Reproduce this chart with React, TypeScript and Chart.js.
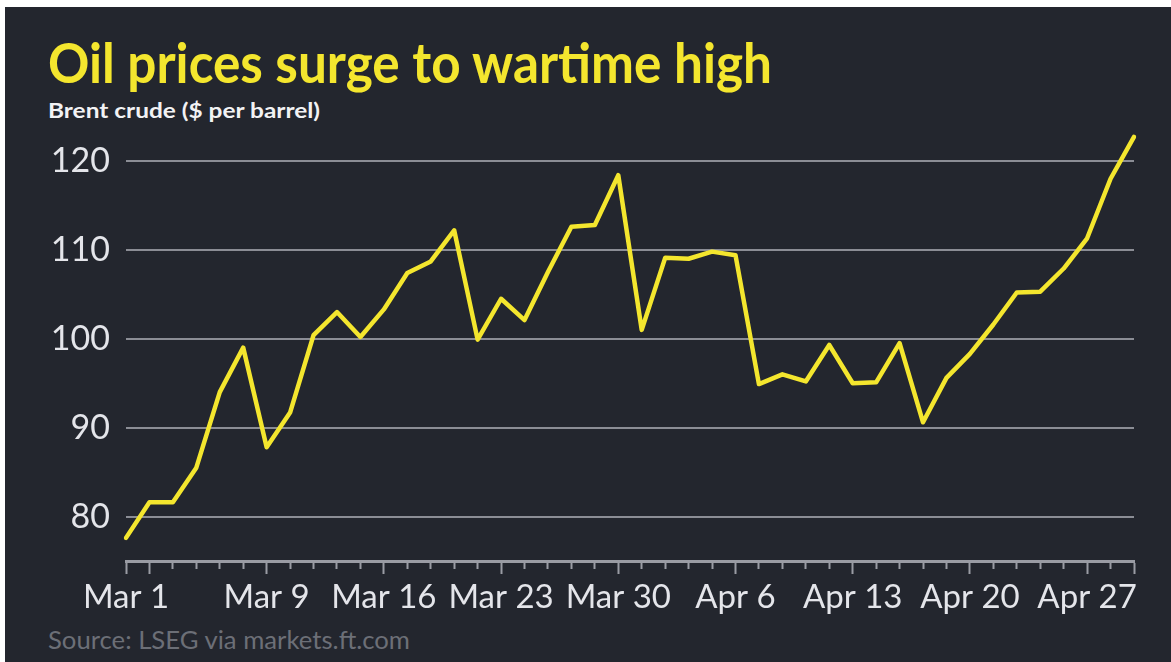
import React, { useEffect, useLayoutEffect, useRef } from "react";
import { Chart, registerables } from "chart.js";

Chart.register(...registerables);

// ---- data ----
const dates = [
  "Mar 1", "Mar 2", "Mar 3", "Mar 4", "Mar 5", "Mar 6",
  "Mar 9", "Mar 10", "Mar 11", "Mar 12", "Mar 13",
  "Mar 16", "Mar 17", "Mar 18", "Mar 19", "Mar 20",
  "Mar 23", "Mar 24", "Mar 25", "Mar 26", "Mar 27",
  "Mar 30", "Mar 31", "Apr 1", "Apr 2", "Apr 3",
  "Apr 6", "Apr 7", "Apr 8", "Apr 9", "Apr 10",
  "Apr 13", "Apr 14", "Apr 15", "Apr 16", "Apr 17",
  "Apr 20", "Apr 21", "Apr 22", "Apr 23", "Apr 24",
  "Apr 27", "Apr 28", "Apr 29",
];

const brent = [
  77.6, 81.6, 81.6, 85.5, 94.0, 99.0,
  87.8, 91.7, 100.4, 103.0, 100.2,
  103.3, 107.4, 108.7, 112.2, 99.9,
  104.5, 102.1, 107.5, 112.6, 112.8,
  118.4, 101.0, 109.1, 109.0, 109.8,
  109.4, 94.9, 96.0, 95.2, 99.3,
  95.0, 95.1, 99.5, 90.6, 95.6,
  98.3, 101.6, 105.2, 105.3, 107.9,
  111.3, 118.0, 122.7,
];

const yTicks = [80, 90, 100, 110, 120];
const shownLabels = ["Mar 1", "Mar 9", "Mar 16", "Mar 23", "Mar 30", "Apr 6", "Apr 13", "Apr 20", "Apr 27"];
const majorTicks = [...shownLabels, "Mar 2", "Apr 29"];

const TITLE = "Oil prices surge to wartime high";
const SUBTITLE = "Brent crude ($ per barrel)";
const SOURCE = "Source: LSEG via markets.ft.com";

// ---- styles ----
const BG = "#23262e";
const YELLOW = "#f4e62e";
const GRID = "#8b8d95";
const AXIS = "#9a9ca4";
const LABEL = "#e4e5ea";
const SOURCE_C = "#6c6f77";
const FONT = "Lato, 'Open Sans', sans-serif";

export default function App() {
  const canvasRef = useRef<HTMLCanvasElement>(null);
  const titleRef = useRef<HTMLSpanElement>(null);
  const subRef = useRef<HTMLSpanElement>(null);
  const srcRef = useRef<HTMLSpanElement>(null);

  useLayoutEffect(() => {
    const fit = (el: HTMLSpanElement | null, target: number) => {
      if (!el) return;
      el.style.transform = "none";
      const w = el.getBoundingClientRect().width;
      if (w > 0) el.style.transform = `scaleX(${target / w})`;
    };
    fit(titleRef.current, 724);
    fit(subRef.current, 272);
    fit(srcRef.current, 362);
  }, []);

  useEffect(() => {
    const chart = new Chart(canvasRef.current!, {
      type: "line",
      data: {
        labels: dates,
        datasets: [
          {
            data: brent,
            borderColor: YELLOW,
            borderWidth: 4.5,
            pointRadius: 0,
            tension: 0,
            borderJoinStyle: "round",
            borderCapStyle: "round",
            fill: false,
          },
        ],
      },
      options: {
        animation: false,
        responsive: false,
        maintainAspectRatio: false,
        layout: { padding: { left: 0, right: 37, top: 109.5, bottom: 0 } },
        plugins: {
          legend: { display: false },
          tooltip: { enabled: false },
        },
        scales: {
          x: {
            type: "category",
            offset: false,
            grid: {
              display: true,
              drawOnChartArea: false,
              drawTicks: true,
              tickLength: 13,
              tickColor: AXIS,
              tickWidth: 2,
              tickBorderDash: (c: any) => (majorTicks.includes(dates[c.index]) ? [] : [6, 40]),
            },
            border: { display: true, color: AXIS, width: 3 },
            ticks: {
              autoSkip: false,
              maxRotation: 0,
              minRotation: 0,
              padding: 4,
              color: LABEL,
              font: { family: FONT, size: 33 },
              callback: (_v: any, i: number) => (shownLabels.includes(dates[i]) ? dates[i] : ""),
            },
            afterFit: (s: any) => {
              s.height = 101;
            },
          },
          y: {
            min: 75,
            max: 125,
            afterBuildTicks: (s: any) => {
              s.ticks = yTicks.map((v) => ({ value: v }));
            },
            grid: { color: GRID, lineWidth: 2, drawTicks: false },
            border: { display: false },
            ticks: {
              padding: 16,
              color: LABEL,
              font: { family: FONT, size: 34 },
            },
            afterFit: (s: any) => {
              s.width = 121;
            },
          },
        },
      },
    });
    return () => chart.destroy();
  }, []);

  const textBase: React.CSSProperties = {
    position: "absolute",
    left: 43,
    whiteSpace: "nowrap",
    display: "inline-block",
    transformOrigin: "left center",
    fontFamily: FONT,
    lineHeight: 1,
  };

  return (
    <div style={{ position: "fixed", inset: 0, background: "#ffffff", overflow: "hidden" }}>
      <div style={{ position: "absolute", left: 5, top: 7, right: 0, bottom: 0, background: BG }}>
        <span ref={titleRef} style={{ ...textBase, top: 27, fontSize: 56, fontWeight: 700, color: YELLOW }}>
          {TITLE}
        </span>
        <span ref={subRef} style={{ ...textBase, top: 92, fontSize: 21, fontWeight: 700, color: "#f2f2f4" }}>
          {SUBTITLE}
        </span>
        <span ref={srcRef} style={{ ...textBase, top: 620, fontSize: 25, fontWeight: 400, color: SOURCE_C }}>
          {SOURCE}
        </span>
        <canvas
          ref={canvasRef}
          width={1166}
          height={655}
          style={{ position: "absolute", left: 0, top: 0, display: "block" }}
        />
      </div>
    </div>
  );
}
